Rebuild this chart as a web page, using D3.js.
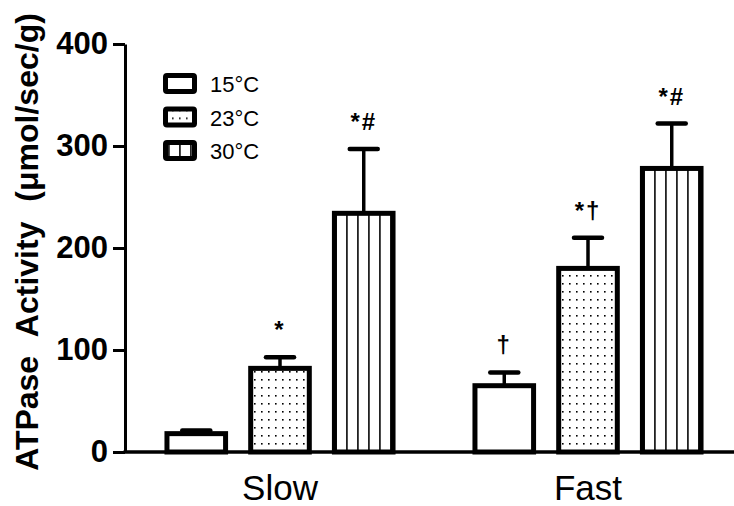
<!DOCTYPE html>
<html>
<head>
<meta charset="utf-8">
<script src="https://cdn.jsdelivr.net/npm/d3@7"></script>
<style>
  html, body { margin: 0; padding: 0; background: #fff; }
  svg { display: block; font-family: "Liberation Sans", Arial, sans-serif; }
</style>
</head>
<body>
<svg id="chart"></svg>
<script>
const categories = ["Slow", "Fast"];
const series = ["15°C", "23°C", "30°C"];
const means15 = [18, 65];
const sem15 = [3, 13];
const means23 = [82, 180];
const sem23 = [11, 30];
const means30 = [234, 278];
const sem30 = [63, 44];
const marks15 = ["", "†"];
const marks23 = ["*", "*†"];
const marks30 = ["*#", "*#"];
const yTicks = [0, 100, 200, 300, 400];

const width = 734;
const height = 506;

const fills = ["#fff", "url(#dots)", "url(#stripes)"];
const seriesData = [
  { means: means15, sem: sem15, marks: marks15 },
  { means: means23, sem: sem23, marks: marks23 },
  { means: means30, sem: sem30, marks: marks30 },
];

const rows = [];
categories.forEach(function (cat, ci) {
  series.forEach(function (s, si) {
    rows.push({
      cat: cat,
      series: s,
      si: si,
      value: seriesData[si].means[ci],
      sem: seriesData[si].sem[ci],
      mark: seriesData[si].marks[ci],
    });
  });
});

const svg = d3.select("#chart").attr("width", width).attr("height", height);

// fill patterns
const defs = svg.append("defs");
const dots = defs
  .append("pattern")
  .attr("id", "dots")
  .attr("patternUnits", "userSpaceOnUse")
  .attr("width", 7)
  .attr("height", 8);
dots.append("rect").attr("width", 7).attr("height", 8).attr("fill", "#fff");
dots.append("rect").attr("x", 2).attr("y", 3).attr("width", 1.6).attr("height", 1.6).attr("fill", "#000");

const stripes = defs
  .append("pattern")
  .attr("id", "stripes")
  .attr("patternUnits", "userSpaceOnUse")
  .attr("width", 11)
  .attr("height", 10);
stripes.append("rect").attr("width", 11).attr("height", 10).attr("fill", "#fff");
stripes.append("rect").attr("x", 5).attr("width", 1.8).attr("height", 10).attr("fill", "#222");

const x0 = d3
  .scaleBand()
  .domain(categories)
  .range([126, 742])
  .paddingInner(0.266)
  .paddingOuter(0.133);

const x1 = d3
  .scaleBand()
  .domain(series)
  .range([0, x0.bandwidth()])
  .paddingInner(0.3);

const y = d3.scaleLinear().domain([0, 400]).range([452, 44]);

// error bars (drawn first so bar outline covers the join)
const err = svg
  .append("g")
  .selectAll("g")
  .data(rows)
  .enter()
  .append("g")
  .attr("transform", function (d) {
    return "translate(" + (x0(d.cat) + x1(d.series) + x1.bandwidth() / 2) + ",0)";
  });

err
  .append("line")
  .attr("y1", function (d) { return y(d.value); })
  .attr("y2", function (d) { return y(d.value + d.sem); })
  .attr("stroke", "#000")
  .attr("stroke-width", 3.5);

err
  .append("line")
  .attr("x1", -14)
  .attr("x2", 14)
  .attr("y1", function (d) { return y(d.value + d.sem); })
  .attr("y2", function (d) { return y(d.value + d.sem); })
  .attr("stroke", "#000")
  .attr("stroke-width", 4.5)
  .attr("stroke-linecap", "round");

err
  .append("text")
  .attr("y", function (d) { return y(d.value + d.sem) - 19; })
  .attr("text-anchor", "middle")
  .style("font-size", "24px")
  .style("font-weight", "bold")
  .style("letter-spacing", "2px")
  .text(function (d) { return d.mark; });

// bars
svg
  .append("g")
  .selectAll("rect")
  .data(rows)
  .enter()
  .append("rect")
  .attr("x", function (d) { return x0(d.cat) + x1(d.series); })
  .attr("y", function (d) { return y(d.value); })
  .attr("width", x1.bandwidth())
  .attr("height", function (d) { return y(0) - y(d.value); })
  .attr("fill", function (d) { return fills[d.si]; })
  .attr("stroke", "#000")
  .attr("stroke-width", 5);

// axes
const yAxis = svg
  .append("g")
  .attr("transform", "translate(125,0)")
  .call(d3.axisLeft(y).tickValues(yTicks).tickSize(12).tickPadding(5).tickSizeOuter(0));
yAxis.selectAll("path, line").attr("stroke", "#000").attr("stroke-width", 3);
yAxis
  .selectAll("text")
  .style("font-family", "'Liberation Sans', Arial, sans-serif")
  .style("font-size", "31px")
  .style("font-weight", "bold")
  .attr("fill", "#000");

const xAxis = svg
  .append("g")
  .attr("transform", "translate(0,452)")
  .call(d3.axisBottom(x0).tickSize(0).tickPadding(23).tickSizeOuter(0));
xAxis.select(".domain").attr("stroke", "#000").attr("stroke-width", 3.5).attr("d", "M123.5,0H742");
xAxis
  .selectAll("text")
  .style("font-family", "'Liberation Sans', Arial, sans-serif")
  .style("font-size", "35px")
  .attr("fill", "#000");

// y title
svg
  .append("text")
  .attr("transform", "translate(38,242) rotate(-90)")
  .attr("text-anchor", "middle")
  .style("font-size", "32px")
  .style("font-weight", "bold")
  .style("word-spacing", "11px")
  .text("ATPase Activity (μmol/sec/g)");

// legend
const legend = svg
  .append("g")
  .selectAll("g")
  .data(series)
  .enter()
  .append("g")
  .attr("transform", function (d, i) {
    return "translate(163," + (73 + i * 33.5) + ")";
  });

legend
  .append("rect")
  .attr("x", 2.5)
  .attr("y", 2.5)
  .attr("width", 29)
  .attr("height", 16)
  .attr("rx", 1.5)
  .attr("fill", function (d, i) { return fills[i]; })
  .attr("stroke", "#000")
  .attr("stroke-width", 5);

legend
  .append("text")
  .attr("x", 47)
  .attr("y", 19)
  .style("font-size", "22px")
  .text(function (d) { return d; });
</script>
</body>
</html>
